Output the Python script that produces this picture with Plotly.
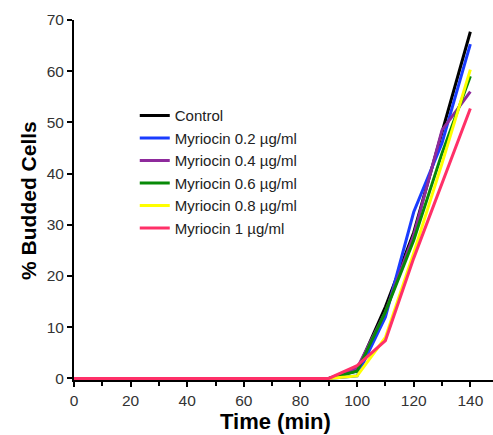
import plotly.graph_objects as go

time = [0, 10, 20, 30, 40, 50, 60, 70, 80, 90, 100, 110, 120, 130, 140]
series_names = ["Control", "Myriocin 0.2 µg/ml", "Myriocin 0.4 µg/ml",
                "Myriocin 0.6 µg/ml", "Myriocin 0.8 µg/ml", "Myriocin 1 µg/ml"]
control = [0, 0, 0, 0, 0, 0, 0, 0, 0, 0, 1.5, 14.0, 28.5, 48.0, 67.7]
myr_02 = [0, 0, 0, 0, 0, 0, 0, 0, 0, 0, 0.5, 12.0, 32.5, 46.0, 65.3]
myr_04 = [0, 0, 0, 0, 0, 0, 0, 0, 0, 0, 2.0, 13.0, 28.0, 48.5, 56.0]
myr_06 = [0, 0, 0, 0, 0, 0, 0, 0, 0, 0, 1.4, 13.0, 27.0, 44.0, 59.0]
myr_08 = [0, 0, 0, 0, 0, 0, 0, 0, 0, 0, 0.5, 8.0, 24.5, 42.0, 60.3]
myr_1 = [0, 0, 0, 0, 0, 0, 0, 0, 0, 0, 2.5, 7.4, 23.5, 38.0, 52.7]
colors = ["#000000", "#1a3cff", "#8e2a9c", "#078a07", "#ffff00", "#ff3068"]

series = [control, myr_02, myr_04, myr_06, myr_08, myr_1]

fig = go.Figure()
for name, vals, col in zip(series_names, series, colors):
    fig.add_trace(go.Scatter(x=time, y=vals, mode="lines", name=name,
                             line=dict(color=col, width=3), cliponaxis=False))

font_family = "Liberation Sans, Arial, sans-serif"
fig.update_layout(
    width=493, height=435,
    margin=dict(l=74, r=0, t=20, b=55),
    paper_bgcolor="white", plot_bgcolor="white",
    font=dict(family=font_family, color="#222222", size=15),
    showlegend=True,
    legend=dict(x=0.145, y=0.78, xanchor="left", yanchor="top",
                bgcolor="rgba(0,0,0,0)", font=dict(size=15, color="#222222"),
                tracegroupgap=0, itemwidth=30),
    xaxis=dict(range=[0, 148], tickvals=[0, 20, 40, 60, 80, 100, 120, 140],
               showline=True, linecolor="black", linewidth=2,
               ticks="outside", ticklen=5, tickwidth=2, tickcolor="black",
               minor=dict(tickvals=[10, 30, 50, 70, 90, 110, 130],
                          ticks="outside", ticklen=4, tickwidth=2, tickcolor="black"),
               showgrid=False, zeroline=False,
               tickfont=dict(size=15.5, color="#333333")),
    yaxis=dict(range=[-0.3, 70], tickvals=[0, 10, 20, 30, 40, 50, 60, 70],
               showline=True, linecolor="black", linewidth=2,
               ticks="outside", ticklen=5, tickwidth=2, tickcolor="black",
               showgrid=False, zeroline=False,
               tickfont=dict(size=15.5, color="#333333")),
    annotations=[
        dict(text="<b>Time (min)</b>", xref="paper", yref="paper",
             x=0.48, y=-0.114, xanchor="center", yanchor="middle",
             showarrow=False, font=dict(size=22, color="black")),
        dict(text="<b>% Budded Cells</b>", xref="paper", yref="paper",
             x=-0.11, y=0.5, xanchor="center", yanchor="middle", textangle=-90,
             showarrow=False, font=dict(size=21, color="black")),
    ],
)

fig.write_html("out.html")
